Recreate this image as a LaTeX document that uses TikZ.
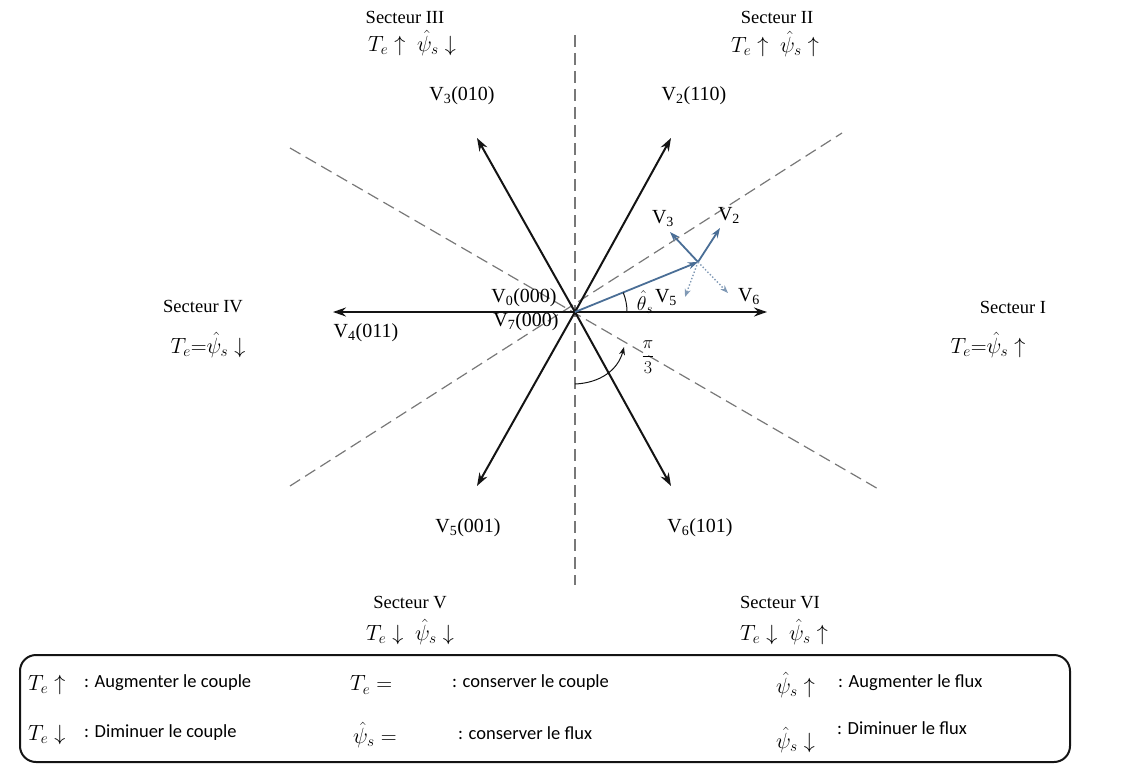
\RequirePackage{fix-cm}
\documentclass[tikz,border=0pt]{standalone}
\usepackage{fontspec}
\setmainfont{Liberation Serif}
\newfontfamily\legendfont{Carlito}
\usetikzlibrary{arrows.meta,positioning}
\definecolor{vBlack}{RGB}{20,20,20}
\definecolor{vGray}{RGB}{120,120,120}
\definecolor{vBlue}{RGB}{74,110,150}
\tikzset{
vecarrow/.style={-{Stealth[length=13pt,width=9pt]},line width=2pt,draw=vBlack},
fluxarrow/.style={-{Stealth[length=10pt,width=7pt]},line width=1.8pt,draw=vBlue},
dotarrow/.style={-{Stealth[length=8pt,width=6pt]},line width=1.4pt,draw=vBlue!70,dotted},
sectorline/.style={dash pattern=on 12pt off 6pt,line width=1.2pt,draw=vGray},
veclabel/.style={font=\fontsize{20}{22}\selectfont,inner sep=1pt},
sectorname/.style={font=\fontsize{18.5}{20}\selectfont,inner sep=1pt},
sectorrule/.style={font=\fontsize{22}{24}\selectfont,inner sep=1pt},
legendsym/.style={font=\fontsize{22}{24}\selectfont,anchor=west,inner sep=0pt},
legendtxt/.style={font=\legendfont\fontsize{18.5}{20}\selectfont,anchor=west,inner sep=0pt}
}

\begin{document}
\begin{tikzpicture}[x=1pt,y=-1pt]
\useasboundingbox (0,0) rectangle (1129,781);
\coordinate (O) at (575,312);
% sector boundaries
\draw[sectorline] (575,35) -- (575,585);
\draw[sectorline] (290,148) -- (880,490);
\draw[sectorline] (290,486) -- (842,133);
% voltage vectors
\coordinate (v1) at (767,312);
\coordinate (v2) at (671,138);
\coordinate (v3) at (477,138);
\coordinate (v4) at (333,312);
\coordinate (v5) at (477,486);
\coordinate (v6) at (671,486);
\foreach \v in {v1,v2,v3,v4,v5,v6}
  \draw[vecarrow] (O) -- (\v);
\fill[vBlack] (O) circle (2.5pt);
\node[veclabel] (l2) at (694,96) {V\textsubscript{2}(110)};
\node[veclabel] (l3) at (462,96) {V\textsubscript{3}(010)};
\node[veclabel] (l4) at (366,333) {V\textsubscript{4}(011)};
\node[veclabel] (l5) at (468,528) {V\textsubscript{5}(001)};
\node[veclabel] (l6) at (700,528) {V\textsubscript{6}(101)};
\node[veclabel] (l0) at (524,298) {V\textsubscript{0}(000)};
\node[veclabel] (l7) at (526,322) {V\textsubscript{7}(000)};
% stator flux and its neighbours
\coordinate (psi) at (698,262);
\coordinate (d2) at (720,228);
\coordinate (d3) at (670,232);
\coordinate (d5) at (685,297);
\coordinate (d6) at (728,293);
\draw[fluxarrow] (O) -- (psi);
\draw[fluxarrow] (psi) -- (d2);
\draw[fluxarrow] (psi) -- (d3);
\draw[dotarrow] (psi) -- (d5);
\draw[dotarrow] (psi) -- (d6);
\node[veclabel] (s2) at (729,215) {V\textsubscript{2}};
\node[veclabel] (s3) at (663,219) {V\textsubscript{3}};
\node[veclabel] (s5) at (666,298) {V\textsubscript{5}};
\node[veclabel] (s6) at (749,297) {V\textsubscript{6}};
\draw[line width=1pt,vBlack] ([shift={(0:52)}]O) arc[start angle=0,end angle=-22,radius=52];
\node[font=\fontsize{20}{22}\selectfont,inner sep=0pt] (th) at (645,302) {$\hat{\theta}_s$};
% pi/3
\draw[-{Stealth[length=8pt,width=6pt]},line width=1pt,vBlack] (575,384) .. controls (600,383) and (618,370) .. (624,347);
\node[font=\fontsize{18}{20}\selectfont,inner sep=0pt] (pi3) at (648,357) {$\displaystyle\frac{\pi}{3}$};
% sectors
\node[sectorname] (s1n) at (1013,307) {Secteur I};
\node[sectorrule] (s1r) at (988,345) {$T_e{=}\hat{\psi}_s\uparrow$};
\node[sectorname] (s2n) at (777,17) {Secteur II};
\node[sectorrule] (s2r) at (775,44) {$T_e\uparrow\ \hat{\psi}_s\uparrow$};
\node[sectorname] (s3n) at (405,17) {Secteur III};
\node[sectorrule] (s3r) at (412,43) {$T_e\uparrow\ \hat{\psi}_s\downarrow$};
\node[sectorname] (s4n) at (203,307) {Secteur IV};
\node[sectorrule] (s4r) at (208,345) {$T_e{=}\hat{\psi}_s\downarrow$};
\node[sectorname] (s5n) at (410,603) {Secteur V};
\node[sectorrule] (s5r) at (410,632) {$T_e\downarrow\ \hat{\psi}_s\downarrow$};
\node[sectorname] (s6n) at (780,603) {Secteur VI};
\node[sectorrule] (s6r) at (784,632) {$T_e\downarrow\ \hat{\psi}_s\uparrow$};
% legend
\draw[line width=2pt,rounded corners=16pt,vBlack] (20,655) rectangle (1070,762);
\node[legendsym] (k1) at (28,685) {$T_e\uparrow$};
\node[legendtxt] (t1) at (84,683) {: Augmenter le couple};
\node[legendsym] (k2) at (28,735) {$T_e\downarrow$};
\node[legendtxt] (t2) at (84,733) {: Diminuer le couple};
\node[legendsym] (k3) at (350,685) {$T_e =$};
\node[legendtxt] (t3) at (452,683) {: conserver le couple};
\node[legendsym] (k4) at (353,735) {$\hat{\psi}_s =$};
\node[legendtxt] (t4) at (458,733) {: conserver le flux};
\node[legendsym] (k5) at (776,685) {$\hat{\psi}_s\uparrow$};
\node[legendtxt] (t5) at (838,683) {: Augmenter le flux};
\node[legendsym] (k6) at (776,740) {$\hat{\psi}_s\downarrow$};
\node[legendtxt] (t6) at (837,728) {: Diminuer le flux};
\end{tikzpicture}
\end{document}
